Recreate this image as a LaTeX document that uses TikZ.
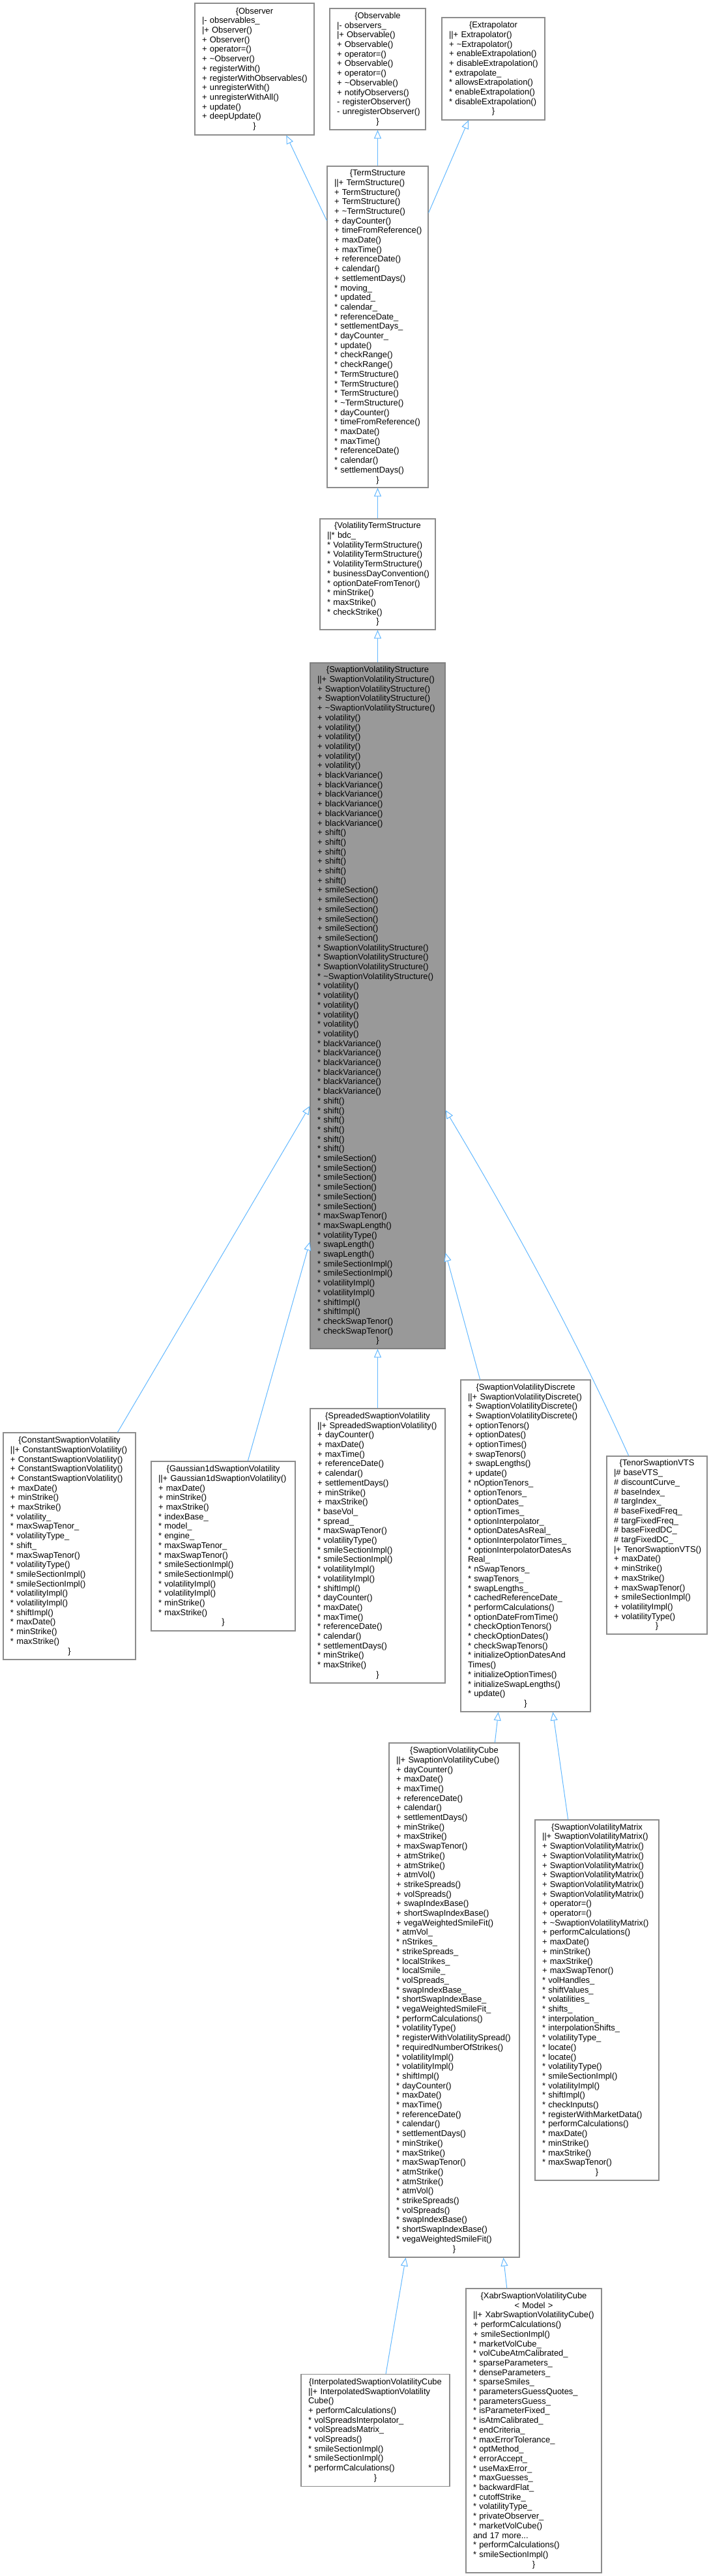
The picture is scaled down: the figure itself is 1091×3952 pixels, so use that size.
\documentclass[tikz,border=0pt]{standalone}
\usepackage{fontspec}
\setmainfont{Liberation Sans}
\usetikzlibrary{arrows.meta,calc}
\definecolor{boxgray}{HTML}{8C8C8C}
\definecolor{edgeblue}{HTML}{63B8FF}
\definecolor{hlgray}{HTML}{999999}
\newcommand\tline[1]{\makebox[\linewidth][c]{#1}\\}
\newcommand\mline[1]{\mbox{#1}\\}
\newcommand\eline{\makebox[\linewidth][c]{\}}}
\newcommand\tl{\textasciitilde}
\begin{document}
\begin{tikzpicture}[x=1pt,y=-1pt,
 cls/.style={draw=boxgray, line width=1.2pt, fill=white, inner xsep=11pt, inner ysep=0pt, align=left, font=\fontsize{12.9}{14.7}\selectfont},
 inh/.style={draw=edgeblue, line width=1pt, -{Triangle[length=13pt,width=11pt,fill=white]}}]
\useasboundingbox (0,0) rectangle (1091,3952);

\node[cls, text width=161pt, minimum height=202pt] (observer) at (390.5,106) {%
\tline{\{Observer}
\mline{|- observables\_}
\mline{|+ Observer()}
\mline{+ Observer()}
\mline{+ operator=()}
\mline{+ \tl Observer()}
\mline{+ registerWith()}
\mline{+ registerWithObservables()}
\mline{+ unregisterWith()}
\mline{+ unregisterWithAll()}
\mline{+ update()}
\mline{+ deepUpdate()}
\eline};

\node[cls, text width=125pt, minimum height=186pt] (observable) at (579.5,106) {%
\tline{\{Observable}
\mline{|- observers\_}
\mline{|+ Observable()}
\mline{+ Observable()}
\mline{+ operator=()}
\mline{+ Observable()}
\mline{+ operator=()}
\mline{+ \tl Observable()}
\mline{+ notifyObservers()}
\mline{- registerObserver()}
\mline{- unregisterObserver()}
\eline};

\node[cls, text width=136pt, minimum height=157pt] (extrap) at (757,105.5) {%
\tline{\{Extrapolator}
\mline{||+ Extrapolator()}
\mline{+ \tl Extrapolator()}
\mline{+ enableExtrapolation()}
\mline{+ disableExtrapolation()}
\mline{* extrapolate\_}
\mline{* allowsExtrapolation()}
\mline{* enableExtrapolation()}
\mline{* disableExtrapolation()}
\eline};

\node[cls, text width=133pt, minimum height=493pt] (ts) at (579.5,501.5) {%
\tline{\{TermStructure}
\mline{||+ TermStructure()}
\mline{+ TermStructure()}
\mline{+ TermStructure()}
\mline{+ \tl TermStructure()}
\mline{+ dayCounter()}
\mline{+ timeFromReference()}
\mline{+ maxDate()}
\mline{+ maxTime()}
\mline{+ referenceDate()}
\mline{+ calendar()}
\mline{+ settlementDays()}
\mline{* moving\_}
\mline{* updated\_}
\mline{* calendar\_}
\mline{* referenceDate\_}
\mline{* settlementDays\_}
\mline{* dayCounter\_}
\mline{* update()}
\mline{* checkRange()}
\mline{* checkRange()}
\mline{* TermStructure()}
\mline{* TermStructure()}
\mline{* TermStructure()}
\mline{* \tl TermStructure()}
\mline{* dayCounter()}
\mline{* timeFromReference()}
\mline{* maxDate()}
\mline{* maxTime()}
\mline{* referenceDate()}
\mline{* calendar()}
\mline{* settlementDays()}
\eline};

\node[cls, text width=155pt, minimum height=170pt] (vts) at (579.5,881) {%
\tline{\{VolatilityTermStructure}
\mline{||* bdc\_}
\mline{* VolatilityTermStructure()}
\mline{* VolatilityTermStructure()}
\mline{* VolatilityTermStructure()}
\mline{* businessDayConvention()}
\mline{* optionDateFromTenor()}
\mline{* minStrike()}
\mline{* maxStrike()}
\mline{* checkStrike()}
\eline};

\node[cls, fill=hlgray, draw=gray, text width=185pt, minimum height=1052pt] (svs) at (579.5,1543) {%
\tline{\{SwaptionVolatilityStructure}
\mline{||+ SwaptionVolatilityStructure()}
\mline{+ SwaptionVolatilityStructure()}
\mline{+ SwaptionVolatilityStructure()}
\mline{+ \tl SwaptionVolatilityStructure()}
\mline{+ volatility()}
\mline{+ volatility()}
\mline{+ volatility()}
\mline{+ volatility()}
\mline{+ volatility()}
\mline{+ volatility()}
\mline{+ blackVariance()}
\mline{+ blackVariance()}
\mline{+ blackVariance()}
\mline{+ blackVariance()}
\mline{+ blackVariance()}
\mline{+ blackVariance()}
\mline{+ shift()}
\mline{+ shift()}
\mline{+ shift()}
\mline{+ shift()}
\mline{+ shift()}
\mline{+ shift()}
\mline{+ smileSection()}
\mline{+ smileSection()}
\mline{+ smileSection()}
\mline{+ smileSection()}
\mline{+ smileSection()}
\mline{+ smileSection()}
\mline{* SwaptionVolatilityStructure()}
\mline{* SwaptionVolatilityStructure()}
\mline{* SwaptionVolatilityStructure()}
\mline{* \tl SwaptionVolatilityStructure()}
\mline{* volatility()}
\mline{* volatility()}
\mline{* volatility()}
\mline{* volatility()}
\mline{* volatility()}
\mline{* volatility()}
\mline{* blackVariance()}
\mline{* blackVariance()}
\mline{* blackVariance()}
\mline{* blackVariance()}
\mline{* blackVariance()}
\mline{* blackVariance()}
\mline{* shift()}
\mline{* shift()}
\mline{* shift()}
\mline{* shift()}
\mline{* shift()}
\mline{* shift()}
\mline{* smileSection()}
\mline{* smileSection()}
\mline{* smileSection()}
\mline{* smileSection()}
\mline{* smileSection()}
\mline{* smileSection()}
\mline{* maxSwapTenor()}
\mline{* maxSwapLength()}
\mline{* volatilityType()}
\mline{* swapLength()}
\mline{* swapLength()}
\mline{* smileSectionImpl()}
\mline{* smileSectionImpl()}
\mline{* volatilityImpl()}
\mline{* volatilityImpl()}
\mline{* shiftImpl()}
\mline{* shiftImpl()}
\mline{* checkSwapTenor()}
\mline{* checkSwapTenor()}
\eline};

\node[cls, text width=181pt, minimum height=348pt] (const) at (106.5,2372) {%
\tline{\{ConstantSwaptionVolatility}
\mline{||+ ConstantSwaptionVolatility()}
\mline{+ ConstantSwaptionVolatility()}
\mline{+ ConstantSwaptionVolatility()}
\mline{+ ConstantSwaptionVolatility()}
\mline{+ maxDate()}
\mline{+ minStrike()}
\mline{+ maxStrike()}
\mline{* volatility\_}
\mline{* maxSwapTenor\_}
\mline{* volatilityType\_}
\mline{* shift\_}
\mline{* maxSwapTenor()}
\mline{* volatilityType()}
\mline{* smileSectionImpl()}
\mline{* smileSectionImpl()}
\mline{* volatilityImpl()}
\mline{* volatilityImpl()}
\mline{* shiftImpl()}
\mline{* maxDate()}
\mline{* minStrike()}
\mline{* maxStrike()}
\eline};

\node[cls, text width=199pt, minimum height=260pt] (gauss) at (342.5,2372) {%
\tline{\{Gaussian1dSwaptionVolatility}
\mline{||+ Gaussian1dSwaptionVolatility()}
\mline{+ maxDate()}
\mline{+ minStrike()}
\mline{+ maxStrike()}
\mline{* indexBase\_}
\mline{* model\_}
\mline{* engine\_}
\mline{* maxSwapTenor\_}
\mline{* maxSwapTenor()}
\mline{* smileSectionImpl()}
\mline{* smileSectionImpl()}
\mline{* volatilityImpl()}
\mline{* volatilityImpl()}
\mline{* minStrike()}
\mline{* maxStrike()}
\eline};

\node[cls, text width=185pt, minimum height=421pt] (spread) at (579.5,2371.5) {%
\tline{\{SpreadedSwaptionVolatility}
\mline{||+ SpreadedSwaptionVolatility()}
\mline{+ dayCounter()}
\mline{+ maxDate()}
\mline{+ maxTime()}
\mline{+ referenceDate()}
\mline{+ calendar()}
\mline{+ settlementDays()}
\mline{+ minStrike()}
\mline{+ maxStrike()}
\mline{* baseVol\_}
\mline{* spread\_}
\mline{* maxSwapTenor()}
\mline{* volatilityType()}
\mline{* smileSectionImpl()}
\mline{* smileSectionImpl()}
\mline{* volatilityImpl()}
\mline{* volatilityImpl()}
\mline{* shiftImpl()}
\mline{* dayCounter()}
\mline{* maxDate()}
\mline{* maxTime()}
\mline{* referenceDate()}
\mline{* calendar()}
\mline{* settlementDays()}
\mline{* minStrike()}
\mline{* maxStrike()}
\eline};

\node[cls, text width=177pt, minimum height=509pt] (disc) at (806.5,2371.5) {%
\tline{\{SwaptionVolatilityDiscrete}
\mline{||+ SwaptionVolatilityDiscrete()}
\mline{+ SwaptionVolatilityDiscrete()}
\mline{+ SwaptionVolatilityDiscrete()}
\mline{+ optionTenors()}
\mline{+ optionDates()}
\mline{+ optionTimes()}
\mline{+ swapTenors()}
\mline{+ swapLengths()}
\mline{+ update()}
\mline{* nOptionTenors\_}
\mline{* optionTenors\_}
\mline{* optionDates\_}
\mline{* optionTimes\_}
\mline{* optionInterpolator\_}
\mline{* optionDatesAsReal\_}
\mline{* optionInterpolatorTimes\_}
\mline{* optionInterpolatorDatesAs}
\mline{Real\_}
\mline{* nSwapTenors\_}
\mline{* swapTenors\_}
\mline{* swapLengths\_}
\mline{* cachedReferenceDate\_}
\mline{* performCalculations()}
\mline{* optionDateFromTime()}
\mline{* checkOptionTenors()}
\mline{* checkOptionDates()}
\mline{* checkSwapTenors()}
\mline{* initializeOptionDatesAnd}
\mline{Times()}
\mline{* initializeOptionTimes()}
\mline{* initializeSwapLengths()}
\mline{* update()}
\eline};

\node[cls, text width=132pt, minimum height=273pt] (tenor) at (1008,2370.5) {%
\tline{\{TenorSwaptionVTS}
\mline{|\# baseVTS\_}
\mline{\# discountCurve\_}
\mline{\# baseIndex\_}
\mline{\# targIndex\_}
\mline{\# baseFixedFreq\_}
\mline{\# targFixedFreq\_}
\mline{\# baseFixedDC\_}
\mline{\# targFixedDC\_}
\mline{|+ TenorSwaptionVTS()}
\mline{+ maxDate()}
\mline{+ minStrike()}
\mline{+ maxStrike()}
\mline{+ maxSwapTenor()}
\mline{+ smileSectionImpl()}
\mline{+ volatilityImpl()}
\mline{+ volatilityType()}
\eline};

\node[cls, text width=178pt, minimum height=789pt] (cube) at (697,3068.5) {%
\tline{\{SwaptionVolatilityCube}
\mline{||+ SwaptionVolatilityCube()}
\mline{+ dayCounter()}
\mline{+ maxDate()}
\mline{+ maxTime()}
\mline{+ referenceDate()}
\mline{+ calendar()}
\mline{+ settlementDays()}
\mline{+ minStrike()}
\mline{+ maxStrike()}
\mline{+ maxSwapTenor()}
\mline{+ atmStrike()}
\mline{+ atmStrike()}
\mline{+ atmVol()}
\mline{+ strikeSpreads()}
\mline{+ volSpreads()}
\mline{+ swapIndexBase()}
\mline{+ shortSwapIndexBase()}
\mline{+ vegaWeightedSmileFit()}
\mline{* atmVol\_}
\mline{* nStrikes\_}
\mline{* strikeSpreads\_}
\mline{* localStrikes\_}
\mline{* localSmile\_}
\mline{* volSpreads\_}
\mline{* swapIndexBase\_}
\mline{* shortSwapIndexBase\_}
\mline{* vegaWeightedSmileFit\_}
\mline{* performCalculations()}
\mline{* volatilityType()}
\mline{* registerWithVolatilitySpread()}
\mline{* requiredNumberOfStrikes()}
\mline{* volatilityImpl()}
\mline{* volatilityImpl()}
\mline{* shiftImpl()}
\mline{* dayCounter()}
\mline{* maxDate()}
\mline{* maxTime()}
\mline{* referenceDate()}
\mline{* calendar()}
\mline{* settlementDays()}
\mline{* minStrike()}
\mline{* maxStrike()}
\mline{* maxSwapTenor()}
\mline{* atmStrike()}
\mline{* atmStrike()}
\mline{* atmVol()}
\mline{* strikeSpreads()}
\mline{* volSpreads()}
\mline{* swapIndexBase()}
\mline{* shortSwapIndexBase()}
\mline{* vegaWeightedSmileFit()}
\eline};

\node[cls, text width=168pt, minimum height=553pt] (matrix) at (916,3068.5) {%
\tline{\{SwaptionVolatilityMatrix}
\mline{||+ SwaptionVolatilityMatrix()}
\mline{+ SwaptionVolatilityMatrix()}
\mline{+ SwaptionVolatilityMatrix()}
\mline{+ SwaptionVolatilityMatrix()}
\mline{+ SwaptionVolatilityMatrix()}
\mline{+ SwaptionVolatilityMatrix()}
\mline{+ SwaptionVolatilityMatrix()}
\mline{+ operator=()}
\mline{+ operator=()}
\mline{+ \tl SwaptionVolatilityMatrix()}
\mline{+ performCalculations()}
\mline{+ maxDate()}
\mline{+ minStrike()}
\mline{+ maxStrike()}
\mline{+ maxSwapTenor()}
\mline{* volHandles\_}
\mline{* shiftValues\_}
\mline{* volatilities\_}
\mline{* shifts\_}
\mline{* interpolation\_}
\mline{* interpolationShifts\_}
\mline{* volatilityType\_}
\mline{* locate()}
\mline{* locate()}
\mline{* volatilityType()}
\mline{* smileSectionImpl()}
\mline{* volatilityImpl()}
\mline{* shiftImpl()}
\mline{* checkInputs()}
\mline{* registerWithMarketData()}
\mline{* performCalculations()}
\mline{* maxDate()}
\mline{* minStrike()}
\mline{* maxStrike()}
\mline{* maxSwapTenor()}
\eline};

\node[cls, text width=206pt, minimum height=172pt] (interp) at (576,3728.5) {%
\tline{\{InterpolatedSwaptionVolatilityCube}
\mline{||+ InterpolatedSwaptionVolatility}
\mline{Cube()}
\mline{+ performCalculations()}
\mline{* volSpreadsInterpolator\_}
\mline{* volSpreadsMatrix\_}
\mline{* volSpreads()}
\mline{* smileSectionImpl()}
\mline{* smileSectionImpl()}
\mline{* performCalculations()}
\eline};

\node[cls, text width=186pt, minimum height=436pt] (xabr) at (819,3729) {%
\tline{\{XabrSwaptionVolatilityCube}
\tline{< Model >}
\mline{||+ XabrSwaptionVolatilityCube()}
\mline{+ performCalculations()}
\mline{+ smileSectionImpl()}
\mline{* marketVolCube\_}
\mline{* volCubeAtmCalibrated\_}
\mline{* sparseParameters\_}
\mline{* denseParameters\_}
\mline{* sparseSmiles\_}
\mline{* parametersGuessQuotes\_}
\mline{* parametersGuess\_}
\mline{* isParameterFixed\_}
\mline{* isAtmCalibrated\_}
\mline{* endCriteria\_}
\mline{* maxErrorTolerance\_}
\mline{* optMethod\_}
\mline{* errorAccept\_}
\mline{* useMaxError\_}
\mline{* maxGuesses\_}
\mline{* backwardFlat\_}
\mline{* cutoffStrike\_}
\mline{* volatilityType\_}
\mline{* privateObserver\_}
\mline{* marketVolCube()}
\mline{and 17 more...}
\mline{* performCalculations()}
\mline{* smileSectionImpl()}
\eline};

\draw[inh] ($(ts.north west)!0.170!(ts.south west)$) -- ($(observer.south west)!0.765!(observer.south east)$);
\draw[inh] (ts.north) -- (observable.south);
\draw[inh] ($(ts.north east)!0.146!(ts.south east)$) -- ($(extrap.south west)!0.26!(extrap.south east)$);
\draw[inh] (vts.north) -- (ts.south);
\draw[inh] (svs.north) -- (vts.south);
\draw[inh] ($(const.north west)!0.862!(const.north east)$) -- ($(svs.north west)!0.646!(svs.south west)$);
\draw[inh] ($(gauss.north west)!0.670!(gauss.north east)$) -- ($(svs.north west)!0.844!(svs.south west)$);
\draw[inh] (spread.north) -- (svs.south);
\draw[inh] ($(disc.north west)!0.151!(disc.north east)$) -- ($(svs.north east)!0.860!(svs.south east)$);
\draw[inh] ($(tenor.north west)!0.221!(tenor.north east)$) .. controls (884,2054) and (791,1883) .. ($(svs.north east)!0.652!(svs.south east)$);
\draw[inh] ($(cube.north west)!0.81!(cube.north east)$) -- ($(disc.south west)!0.291!(disc.south east)$);
\draw[inh] ($(matrix.north west)!0.268!(matrix.north east)$) -- ($(disc.south west)!0.709!(disc.south east)$);
\draw[inh] ($(interp.north west)!0.57!(interp.north east)$) -- ($(cube.south west)!0.13!(cube.south east)$);
\draw[inh] ($(xabr.north west)!0.303!(xabr.north east)$) -- ($(cube.south west)!0.875!(cube.south east)$);
\end{tikzpicture}
\end{document}
